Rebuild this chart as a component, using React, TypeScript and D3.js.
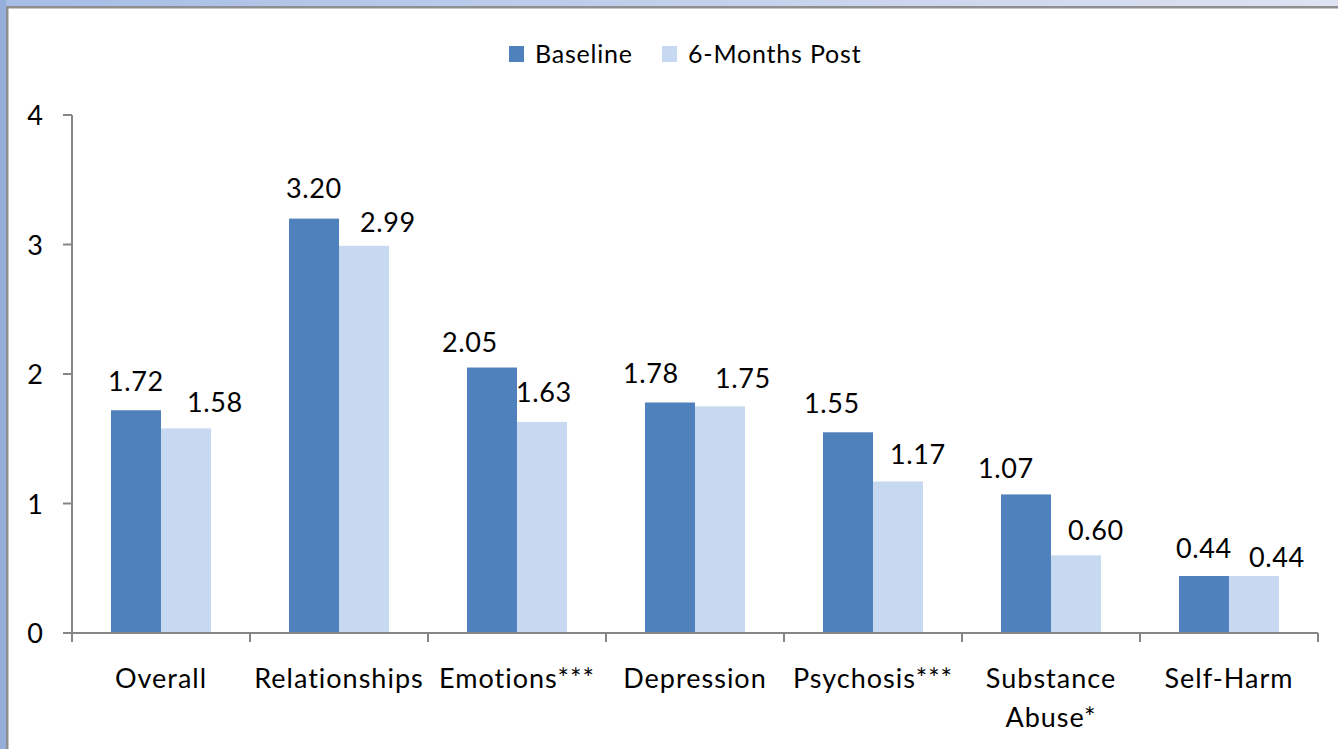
import React from "react";
import * as d3 from "d3";

const categories = ["Overall", "Relationships", "Emotions***", "Depression", "Psychosis***", "Substance\nAbuse*", "Self-Harm"];
const seriesNames = ["Baseline", "6-Months Post"];
const baseline = [1.72, 3.2, 2.05, 1.78, 1.55, 1.07, 0.44];
const sixMonths = [1.58, 2.99, 1.63, 1.75, 1.17, 0.6, 0.44];
const yTicks = [0, 1, 2, 3, 4];
const colors = ["#4F81BD", "#C6D9F0"];

// label layout nudges (dx from bar centre, gap above bar top), as placed in the original
const baselineLabelNudge = [[0, 19], [0, 21], [-22, 16], [-19, 19], [-16, 19], [-20, 16], [0, 18]];
const postLabelNudge = [[29, 16], [24, 14], [2, 20], [23, 18], [20, 17], [20, 15], [23, 9]];

const W = 1338;
const H = 749;
const FONT = "Lato, 'Noto Sans', sans-serif";
const FS = 27;

export default function App() {
  const x = d3.scaleBand<string>().domain(categories).range([72, 1318]).paddingInner(0).paddingOuter(0);
  const xs = d3.scaleBand<string>().domain(seriesNames).range([0, x.bandwidth()]).paddingInner(0).paddingOuter(0.78);
  const y = d3.scaleLinear().domain([0, 4]).range([633, 115]);
  const data = [baseline, sixMonths];
  const nudges = [baselineLabelNudge, postLabelNudge];
  const axisColor = "#868686";

  return (
    <svg width={W} height={H} style={{ position: "fixed", left: 0, top: 0 }} fontFamily={FONT}>
      <defs>
        <linearGradient id="topband" x1="0" x2="1" y1="0" y2="0">
          <stop offset="0" stopColor="#A6BDE6" />
          <stop offset="1" stopColor="#DFE2F1" />
        </linearGradient>
      </defs>
      <rect x={0} y={0} width={W} height={H} fill="#ffffff" />
      <rect x={0} y={0} width={W} height={6} fill="url(#topband)" />
      <rect x={0} y={0} width={6} height={H} fill="#95AEDC" />
      <rect x={6} y={6} width={W - 6} height={2.5} fill="#8F8F8F" />
      <rect x={6} y={6} width={2.5} height={H - 6} fill="#8F8F8F" />

      {/* legend */}
      {seriesNames.map((s, i) => {
        const lx = i === 0 ? 509 : 662;
        return (
          <g key={s}>
            <rect x={lx} y={46} width={15} height={16} fill={colors[i]} />
            <text x={lx + 26} y={63} fontSize={25} fill="#000" letterSpacing={0.8}>{s}</text>
          </g>
        );
      })}

      {/* bars */}
      {categories.map((c, ci) => (
        <g key={c} transform={`translate(${x(c)},0)`}>
          {seriesNames.map((s, si) => {
            const v = data[si][ci];
            const bx = xs(s)!;
            const [dx, gap] = nudges[si][ci];
            return (
              <g key={s}>
                <rect x={bx} y={y(v)} width={xs.bandwidth()} height={y(0) - y(v)} fill={colors[si]} />
                <text x={bx + xs.bandwidth() / 2 + dx} y={y(v) - gap} textAnchor="middle" fontSize={FS} fill="#000" letterSpacing={0.6}>
                  {v.toFixed(2)}
                </text>
              </g>
            );
          })}
        </g>
      ))}

      {/* y axis */}
      <line x1={72} x2={72} y1={y(4)} y2={y(0)} stroke={axisColor} strokeWidth={2} />
      {yTicks.map((t) => (
        <g key={t}>
          <line x1={63} x2={72} y1={y(t)} y2={y(t)} stroke={axisColor} strokeWidth={2} />
          <text x={43} y={y(t) + 10} textAnchor="end" fontSize={FS} fill="#000">{t}</text>
        </g>
      ))}

      {/* x axis */}
      <line x1={72} x2={1318} y1={y(0)} y2={y(0)} stroke={axisColor} strokeWidth={2} />
      {[...categories.map((c) => x(c)!), 1318].map((tx, i) => (
        <line key={i} x1={tx} x2={tx} y1={y(0)} y2={y(0) + 9} stroke={axisColor} strokeWidth={2} />
      ))}
      {categories.map((c) => (
        <text key={c} x={x(c)! + x.bandwidth() / 2} y={688} textAnchor="middle" fontSize={FS} fill="#000" letterSpacing={1}>
          {c.split("\n").map((line, li) => (
            <tspan key={li} x={x(c)! + x.bandwidth() / 2} dy={li === 0 ? 0 : 39}>{line}</tspan>
          ))}
        </text>
      ))}
    </svg>
  );
}
